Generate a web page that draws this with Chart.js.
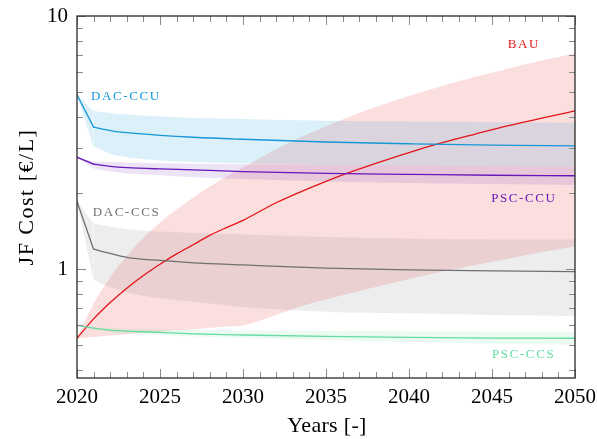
<!DOCTYPE html>
<html>
<head>
<meta charset="utf-8">
<script src="https://cdn.jsdelivr.net/npm/chart.js@4/dist/chart.umd.min.js"></script>
<style>
  html, body { margin: 0; padding: 0; background: #fff; }
  #wrap { width: 597px; height: 439px; }
</style>
</head>
<body>
<div id="wrap"><canvas id="c" width="597" height="439"></canvas></div>
<script>
// Jet fuel cost pathways (EUR per litre), central value and low/high range

const yearsDAC = [2020, 2021, 2022, 2023, 2025, 2027, 2030, 2035, 2040, 2045, 2050];

const dacCcu     = [4.88, 3.64, 3.53, 3.46, 3.38, 3.32, 3.26, 3.18, 3.13, 3.09, 3.07];
const dacCcuHigh = [4.88, 4.22, 4.14, 4.08, 4.01, 3.96, 3.92, 3.86, 3.83, 3.81, 3.79];
const dacCcuLow  = [4.88, 3.05, 2.86, 2.77, 2.69, 2.65, 2.62, 2.58, 2.56, 2.55, 2.54];

const pscCcu     = [2.77, 2.60, 2.55, 2.52, 2.49, 2.47, 2.43, 2.39, 2.37, 2.35, 2.34];
const pscCcuHigh = [2.77, 2.66, 2.65, 2.64, 2.62, 2.61, 2.60, 2.58, 2.56, 2.55, 2.54];
const pscCcuLow  = [2.77, 2.50, 2.43, 2.39, 2.35, 2.31, 2.27, 2.22, 2.19, 2.17, 2.15];

const dacCcs     = [1.85, 1.20, 1.155, 1.115, 1.083, 1.06, 1.04, 1.01, 0.995, 0.985, 0.978];
const dacCcsHigh = [1.85, 1.52, 1.47, 1.44, 1.41, 1.39, 1.37, 1.34, 1.32, 1.31, 1.31];
const dacCcsLow  = [1.85, 0.907, 0.85, 0.81, 0.77, 0.745, 0.71, 0.68, 0.67, 0.66, 0.654];

const pscCcs     = [0.600, 0.585, 0.575, 0.570, 0.563, 0.556, 0.550, 0.543, 0.538, 0.535, 0.534];
const pscCcsHigh = [0.600, 0.590, 0.585, 0.582, 0.578, 0.575, 0.573, 0.571, 0.569, 0.568, 0.567];
const pscCcsLow  = [0.600, 0.575, 0.565, 0.558, 0.550, 0.542, 0.535, 0.525, 0.515, 0.508, 0.503];

const yearsBAU = [2020, 2021, 2022, 2023, 2024, 2025, 2026, 2027, 2028, 2029, 2030,
                  2032, 2034, 2036, 2038, 2040, 2042, 2044, 2046, 2048, 2050];
const bau     = [0.534, 0.637, 0.739, 0.842, 0.945, 1.047, 1.15, 1.25, 1.36, 1.46, 1.56,
                 1.83, 2.09, 2.36, 2.62, 2.89, 3.16, 3.42, 3.69, 3.95, 4.22];
const bauHigh = [0.534, 0.73, 0.93, 1.13, 1.33, 1.53, 1.72, 1.92, 2.12, 2.32, 2.52,
                 2.98, 3.44, 3.90, 4.37, 4.83, 5.29, 5.75, 6.21, 6.67, 7.13];
const bauLow  = [0.534, 0.540, 0.547, 0.554, 0.560, 0.567, 0.574, 0.580, 0.587, 0.594, 0.600,
                 0.66, 0.73, 0.79, 0.85, 0.915, 0.98, 1.04, 1.10, 1.17, 1.23];

// axis ticks
const xMajorTicks = [2020, 2025, 2030, 2035, 2040, 2045, 2050];
const xMinorTicks = [2021, 2022, 2023, 2024, 2026, 2027, 2028, 2029, 2031, 2032, 2033, 2034,
                     2036, 2037, 2038, 2039, 2041, 2042, 2043, 2044, 2046, 2047, 2048, 2049];
const yMajorTicks = [1, 10];
const yMinorTicks = [0.4, 0.5, 0.6, 0.7, 0.8, 0.9, 2, 3, 4, 5, 6, 7, 8, 9];

const xTitle = 'Years [-]';
const yTitle = 'JF Cost [€/L]';

const seriesNames = ['DAC-CCU', 'PSC-CCU', 'DAC-CCS', 'PSC-CCS', 'BAU'];

const style = {
  'DAC-CCU': { line: 'rgb(22,152,215)', band: 'rgba(22,152,215,0.15)', label: [2020.85, 4.79] },
  'PSC-CCU': { line: 'rgb(102,24,186)', band: 'rgba(120,60,190,0.14)', label: [2044.95, 1.895] },
  'DAC-CCS': { line: 'rgb(112,112,112)', band: 'rgba(110,110,110,0.125)', label: [2020.95, 1.67] },
  'PSC-CCS': { line: 'rgb(100,220,160)', band: 'rgba(90,220,150,0.12)', label: [2045.0, 0.459] },
  'BAU':     { line: 'rgb(228,20,24)', band: 'rgba(228,20,24,0.14)', label: [2045.95, 7.68] }
};

// [years, central, high, low, sharp step 2020->2021]
const sources = {
  'DAC-CCU': [yearsDAC, dacCcu, dacCcuHigh, dacCcuLow, true],
  'PSC-CCU': [yearsDAC, pscCcu, pscCcuHigh, pscCcuLow, true],
  'DAC-CCS': [yearsDAC, dacCcs, dacCcsHigh, dacCcsLow, true],
  'PSC-CCS': [yearsDAC, pscCcs, pscCcsHigh, pscCcsLow, true],
  'BAU':     [yearsBAU, bau, bauHigh, bauLow, false]
};

const pts = (xs, ys, s, e) => xs.slice(s, e).map((x, i) => ({ x: x, y: ys[s + i] }));

const bandSets = [];
const lineSets = [];
seriesNames.forEach(name => {
  const [xs, mid, hi, lo, step] = sources[name];
  // the first-year drop is drawn as a straight segment, the rest as a smooth curve
  const parts = step ? [[0, 2, 'default'], [1, xs.length, 'monotone']]
                     : [[0, xs.length, 'monotone']];
  parts.forEach(([s, e, mode]) => {
    bandSets.push({
      label: name + ' high', data: pts(xs, hi, s, e), borderWidth: 0, pointRadius: 0,
      backgroundColor: style[name].band, fill: '+1', order: 2, cubicInterpolationMode: mode
    });
    bandSets.push({
      label: name + ' low', data: pts(xs, lo, s, e), borderWidth: 0, pointRadius: 0,
      backgroundColor: 'rgba(0,0,0,0)', fill: false, order: 2, cubicInterpolationMode: mode
    });
    lineSets.push({
      label: name, data: pts(xs, mid, s, e), borderColor: style[name].line, borderWidth: 1.3,
      pointRadius: 0, fill: false, order: 1, cubicInterpolationMode: mode,
      borderCapStyle: 'round', borderJoinStyle: 'round'
    });
  });
});
const datasets = bandSets.concat(lineSets);

const SERIF = '"Liberation Serif", "DejaVu Serif", serif';

// inward tick marks on all four sides plus the box frame
const framePlugin = {
  id: 'frameTicks',
  afterDatasetsDraw(chart) {
    const { ctx, chartArea: a, scales: { x, y } } = chart;
    ctx.save();
    ctx.strokeStyle = '#8a8a8a';
    ctx.lineWidth = 1;
    const vt = (v, len) => {
      const px = Math.round(x.getPixelForValue(v)) + 0.5;
      ctx.beginPath();
      ctx.moveTo(px, a.bottom); ctx.lineTo(px, a.bottom - len);
      ctx.moveTo(px, a.top); ctx.lineTo(px, a.top + len);
      ctx.stroke();
    };
    const ht = (v, len) => {
      const py = Math.round(y.getPixelForValue(v)) + 0.5;
      ctx.beginPath();
      ctx.moveTo(a.left, py); ctx.lineTo(a.left + len, py);
      ctx.moveTo(a.right, py); ctx.lineTo(a.right - len, py);
      ctx.stroke();
    };
    xMinorTicks.forEach(v => vt(v, 6));
    xMajorTicks.forEach(v => vt(v, 9));
    yMinorTicks.forEach(v => ht(v, 6));
    yMajorTicks.forEach(v => ht(v, 9));
    ctx.strokeStyle = '#2a2a2a';
    ctx.lineWidth = 1.3;
    ctx.strokeRect(a.left, a.top, a.right - a.left, a.bottom - a.top);
    ctx.restore();
  }
};

// series names next to their curves, and the two axis titles
const textPlugin = {
  id: 'texts',
  afterDraw(chart) {
    const { ctx, chartArea: a, scales: { x, y } } = chart;
    ctx.save();
    ctx.font = '13px ' + SERIF;
    ctx.letterSpacing = '1.6px';
    ctx.textAlign = 'left';
    ctx.textBaseline = 'middle';
    seriesNames.forEach(name => {
      const [lx, ly] = style[name].label;
      ctx.fillStyle = style[name].line;
      ctx.fillText(name, x.getPixelForValue(lx), y.getPixelForValue(ly));
    });

    ctx.fillStyle = '#000';
    ctx.textAlign = 'center';
    ctx.font = '22px ' + SERIF;
    ctx.letterSpacing = '0.3px';
    ctx.fillText(xTitle, (a.left + a.right) / 2 + 1, 426);

    ctx.translate(27, (a.top + a.bottom) / 2);
    ctx.rotate(-Math.PI / 2);
    ctx.letterSpacing = '1.5px';
    ctx.fillText(yTitle, 0, 0);
    ctx.restore();
  }
};

new Chart(document.getElementById('c'), {
  type: 'line',
  data: { datasets: datasets },
  plugins: [framePlugin, textPlugin],
  options: {
    responsive: false,
    animation: false,
    events: [],
    layout: { padding: { left: 0, right: 22, top: 16, bottom: 0 } },
    plugins: { legend: { display: false }, tooltip: { enabled: false } },
    scales: {
      x: {
        type: 'linear', min: 2020, max: 2050,
        grid: { display: false, drawTicks: false },
        border: { display: false },
        afterBuildTicks: s => { s.ticks = xMajorTicks.map(v => ({ value: v })); },
        afterFit: s => { s.height = 61; s.paddingLeft = 0; s.paddingRight = 0; },
        ticks: {
          padding: 7, color: '#000', maxRotation: 0,
          font: { family: SERIF, size: 21 },
          callback: v => String(v)
        }
      },
      y: {
        type: 'logarithmic', min: 0.372, max: 10,
        grid: { display: false, drawTicks: false },
        border: { display: false },
        afterBuildTicks: s => { s.ticks = yMajorTicks.map(v => ({ value: v })); },
        afterFit: s => { s.width = 77; s.paddingTop = 0; s.paddingBottom = 0; },
        ticks: {
          padding: 9, color: '#000',
          font: { family: SERIF, size: 21 },
          callback: v => String(v)
        }
      }
    }
  }
});
</script>
</body>
</html>
